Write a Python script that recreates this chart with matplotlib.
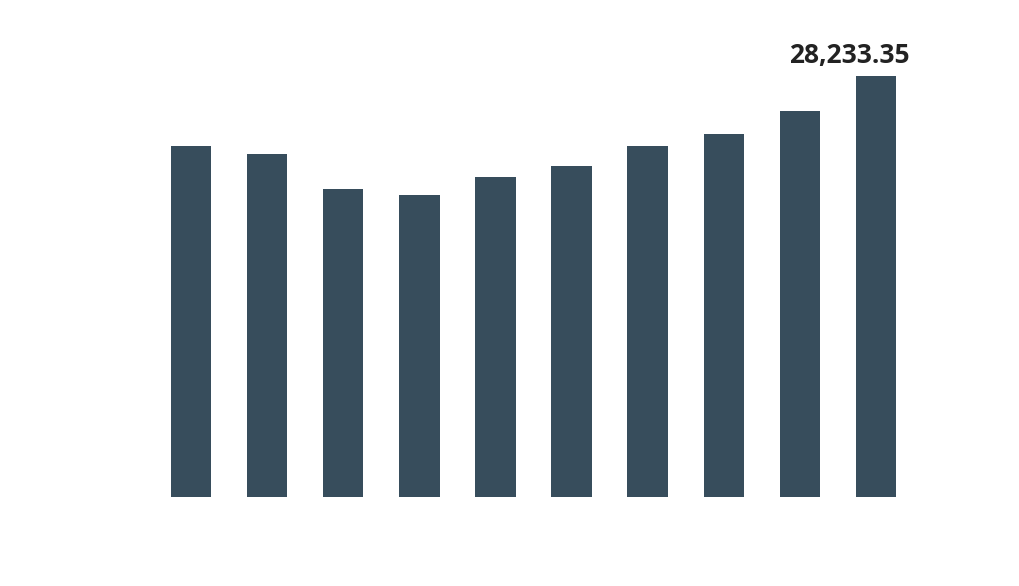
import numpy as np
import matplotlib.pyplot as plt

# values (last one is labelled)
categories = list(range(10))
values = [23540, 23000, 20650, 20250, 21460, 22200, 23540, 24340, 25890, 28233.35]
bar_color = "#374d5c"

fig = plt.figure(figsize=(10.2, 5.86), dpi=100)
W, H = 1020, 586
ax = fig.add_axes([153 / W, 89 / H, 761 / W, 421 / H])

x = np.arange(len(values))
ax.bar(x, values, width=0.53, color=bar_color)
ax.set_xlim(-0.5, len(values) - 0.5)
ax.set_ylim(0, max(values))

ax.annotate(f"{values[-1]:,.2f}", xy=(x[-1], values[-1]), xytext=(34, 7),
            textcoords="offset pixels", ha="right", va="bottom",
            fontsize=19, fontweight="bold", color="#222222",
            family=["Open Sans", "DejaVu Sans"])

ax.axis("off")
fig.savefig("out.png", dpi=100)
